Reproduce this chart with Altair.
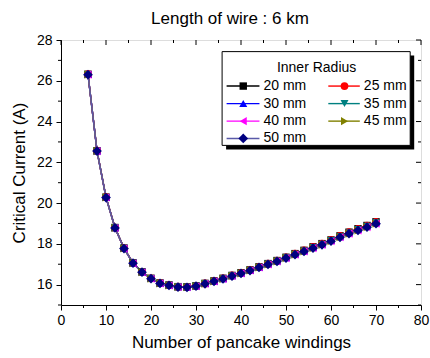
import altair as alt
import pandas as pd

# Number of pancake windings (x) shared by every series
windings = list(range(6, 71, 2))

# Critical current (A) per inner radius
current_hi = [26.32, 22.57, 20.29, 18.80, 17.79, 17.07, 16.63, 16.31, 16.08, 15.98, 15.90,
              15.89, 15.94, 16.06, 16.18, 16.31, 16.45, 16.58, 16.72, 16.87, 17.03, 17.18,
              17.34, 17.52, 17.68, 17.85, 18.01, 18.19, 18.39, 18.57, 18.74, 18.90, 19.08]
current_mid = [26.31, 22.56, 20.28, 18.79, 17.78, 17.06, 16.62, 16.30, 16.07, 15.97, 15.89,
               15.88, 15.93, 16.05, 16.17, 16.29, 16.43, 16.56, 16.70, 16.85, 17.01, 17.16,
               17.32, 17.49, 17.65, 17.82, 17.98, 18.16, 18.35, 18.53, 18.70, 18.86, 19.03]
current_lo = [26.30, 22.55, 20.27, 18.78, 17.77, 17.05, 16.61, 16.29, 16.06, 15.96, 15.88,
              15.87, 15.92, 16.04, 16.16, 16.28, 16.42, 16.55, 16.69, 16.84, 16.99, 17.14,
              17.30, 17.47, 17.63, 17.79, 17.95, 18.13, 18.32, 18.50, 18.66, 18.82, 18.99]

series_names = ["20 mm", "25 mm", "30 mm", "35 mm", "40 mm", "45 mm", "50 mm"]
series_values = [current_hi, current_hi, current_mid, current_mid, current_lo, current_lo, current_lo]
marker_colors = ["#000000", "#ff0000", "#0000ff", "#008080", "#ff00ff", "#808000", "#000080"]
line_colors = ["#000000", "#ff0000", "#0000ff", "#008080", "#ff00ff", "#808000", "#5a5aa8"]
marker_shapes = ["square", "circle", "triangle-up", "triangle-down", "triangle-left",
                 "triangle-right", "diamond"]
marker_sizes = [55, 60, 65, 65, 65, 65, 95]

x_major = [0, 10, 20, 30, 40, 50, 60, 70, 80]
x_minor = [5, 15, 25, 35, 45, 55, 65, 75]
y_major = [16, 18, 20, 22, 24, 26, 28]
y_minor = [15, 17, 19, 21, 23, 25, 27]

X_DOM = [0, 80]
Y_DOM = [15, 28]
PLOT_W, PLOT_H = 360, 265
FONT = "Liberation Sans"

rows = []
for k, (name, vals) in enumerate(zip(series_names, series_values)):
    for w, v in zip(windings, vals):
        rows.append({"series": name, "order": k, "windings": w, "current": v})
df = pd.DataFrame(rows)

xs = alt.Scale(domain=X_DOM, nice=False, zero=False)
ys = alt.Scale(domain=Y_DOM, nice=False, zero=False)

x_axis = alt.Axis(values=x_major, title="Number of pancake windings", grid=False,
                  tickSize=5, labelPadding=3, titlePadding=7, domainColor="black",
                  tickColor="black", labelColor="black", titleColor="black",
                  labelFontSize=14, titleFontSize=17, titleFontWeight="normal",
                  labelFont=FONT, titleFont=FONT, labelFlush=False)
y_axis = alt.Axis(values=y_major, title="Critical Current (A)", grid=False,
                  tickSize=5, labelPadding=4, titlePadding=8, domainColor="black",
                  tickColor="black", labelColor="black", titleColor="black",
                  labelFontSize=14, titleFontSize=17, titleFontWeight="normal",
                  labelFont=FONT, titleFont=FONT, labelFlush=False)

layers = []
base = alt.Chart(df)

# First layer carries the axes
layers.append(
    base.mark_line(strokeWidth=1.4, clip=True).encode(
        x=alt.X("windings:Q", scale=xs, axis=x_axis),
        y=alt.Y("current:Q", scale=ys, axis=y_axis),
        detail="series:N",
        color=alt.Color("series:N", scale=alt.Scale(domain=series_names, range=line_colors),
                        legend=None),
        order="windings:Q",
    )
)

for k, name in enumerate(series_names):
    layers.append(
        base.transform_filter(alt.datum.series == name).mark_point(
            filled=True, shape=marker_shapes[k], size=marker_sizes[k],
            color=marker_colors[k], opacity=1, strokeWidth=0
        ).encode(
            x=alt.X("windings:Q", scale=xs),
            y=alt.Y("current:Q", scale=ys),
        )
    )

# Minor outward ticks and inward ticks on the top and right edges
px_x = (X_DOM[1] - X_DOM[0]) / PLOT_W
px_y = (Y_DOM[1] - Y_DOM[0]) / PLOT_H

tick_rows = []
for v in x_minor:
    tick_rows.append({"x": v, "x2": v, "y": Y_DOM[0], "y2": Y_DOM[0] - 3 * px_y})
for v in x_major + x_minor:
    ln = 5 if v in x_major else 3
    tick_rows.append({"x": v, "x2": v, "y": Y_DOM[1], "y2": Y_DOM[1] - ln * px_y})
for v in y_minor:
    tick_rows.append({"x": X_DOM[0], "x2": X_DOM[0] - 3 * px_x, "y": v, "y2": v})
for v in y_major + y_minor:
    ln = 5 if v in y_major else 3
    tick_rows.append({"x": X_DOM[1], "x2": X_DOM[1] - ln * px_x, "y": v, "y2": v})
ticks = pd.DataFrame(tick_rows)
layers.append(
    alt.Chart(ticks).mark_rule(color="black", strokeWidth=1).encode(
        x=alt.X("x:Q", scale=xs), x2="x2:Q",
        y=alt.Y("y:Q", scale=ys), y2="y2:Q",
    )
)

# Legend box with drop shadow
box_left, box_right = 35.8, 77.6
box_top, box_bottom = 27.43, 22.83
shadow = pd.DataFrame([{"x": box_left + 4 * px_x, "x2": box_right + 4 * px_x,
                        "y": box_top - 4 * px_y, "y2": box_bottom - 4 * px_y}])
frame = pd.DataFrame([{"x": box_left, "x2": box_right, "y": box_top, "y2": box_bottom}])
layers.append(
    alt.Chart(shadow).mark_rect(color="black").encode(
        x=alt.X("x:Q", scale=xs), x2="x2:Q", y=alt.Y("y:Q", scale=ys), y2="y2:Q")
)
layers.append(
    alt.Chart(frame).mark_rect(fill="white", stroke="black", strokeWidth=1).encode(
        x=alt.X("x:Q", scale=xs), x2="x2:Q", y=alt.Y("y:Q", scale=ys), y2="y2:Q")
)

layers.append(
    alt.Chart(pd.DataFrame([{"x": 56.8, "y": 26.61, "t": "Inner Radius"}])).mark_text(
        font=FONT, fontSize=14, color="black", align="center", baseline="middle"
    ).encode(x=alt.X("x:Q", scale=xs), y=alt.Y("y:Q", scale=ys), text="t:N")
)

col_line = [(36.8, 44.1), (59.4, 66.4)]
col_mark = [40.5, 63.0]
col_text = [45.0, 67.3]
row_y = [25.74, 24.88, 24.02, 23.17]
for k, name in enumerate(series_names):
    c, r = k % 2, k // 2
    yv = row_y[r]
    seg = pd.DataFrame([{"x": col_line[c][0], "x2": col_line[c][1], "y": yv}])
    layers.append(
        alt.Chart(seg).mark_rule(color=line_colors[k], strokeWidth=1.4).encode(
            x=alt.X("x:Q", scale=xs), x2="x2:Q", y=alt.Y("y:Q", scale=ys))
    )
    pt = pd.DataFrame([{"x": col_mark[c], "y": yv, "xt": col_text[c], "t": name}])
    layers.append(
        alt.Chart(pt).mark_point(filled=True, shape=marker_shapes[k], size=marker_sizes[k],
                                 color=marker_colors[k], opacity=1, strokeWidth=0).encode(
            x=alt.X("x:Q", scale=xs), y=alt.Y("y:Q", scale=ys))
    )
    layers.append(
        alt.Chart(pt).mark_text(font=FONT, fontSize=14, color="black", align="left",
                                baseline="middle").encode(
            x=alt.X("xt:Q", scale=xs), y=alt.Y("y:Q", scale=ys), text="t:N")
    )

chart = alt.layer(*layers).properties(
    width=PLOT_W, height=PLOT_H,
    title=alt.TitleParams("Length of wire : 6 km", fontSize=17, font=FONT,
                          fontWeight="normal", color="black", anchor="middle",
                          offset=5, dx=-11),
    autosize=alt.AutoSizeParams(type="none"),
    padding={"left": 61, "top": 40, "right": 9, "bottom": 53},
).configure_view(stroke="black", strokeWidth=1).configure(background="white")

chart.save("out.html", embed_options={"renderer": "svg", "actions": False})
